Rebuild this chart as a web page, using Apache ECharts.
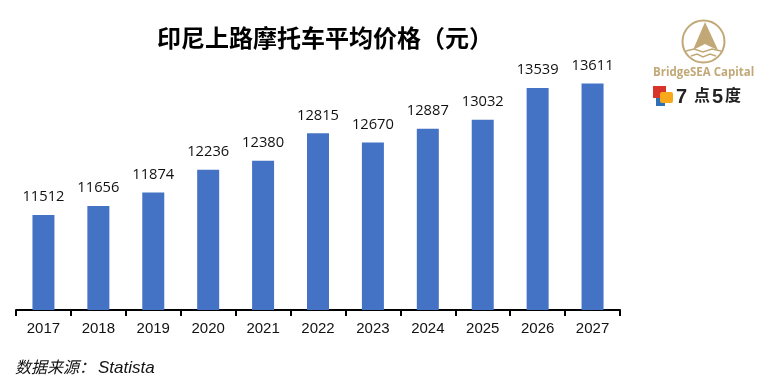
<!DOCTYPE html>
<html>
<head>
<meta charset="utf-8">
<style>
  html, body { margin: 0; padding: 0; background: #fff; }
  #box { width: 768px; height: 392px; }
</style>
<script src="https://cdn.jsdelivr.net/npm/echarts@6/dist/echarts.min.js"></script>
</head>
<body>
<div id="box"></div>
<script>
var years = ["2017", "2018", "2019", "2020", "2021", "2022", "2023", "2024", "2025", "2026", "2027"];
var prices = [11512, 11656, 11874, 12236, 12380, 12815, 12670, 12887, 13032, 13539, 13611];

var cjk = '"Noto Sans CJK SC", sans-serif';
var gold = "#c2a877";

var chart = echarts.init(document.getElementById("box"));
var option = {
  animation: false,
  backgroundColor: "#fff",
  title: {
    text: "印尼上路摩托车平均价格（元）",
    left: 152,
    top: 21,
    textStyle: { fontFamily: cjk, fontSize: 24, fontWeight: "bold", color: "#000" }
  },
  grid: { left: 16, right: 148, top: 59, bottom: 82 },
  xAxis: {
    type: "category",
    data: years,
    axisLine: { lineStyle: { color: "#000", width: 2 } },
    axisTick: { show: true, length: 6, lineStyle: { color: "#000", width: 2 } },
    axisLabel: { fontFamily: "Liberation Sans", fontSize: 15, color: "#111", margin: 11 }
  },
  yAxis: { type: "value", min: 10000, max: 14000, show: false },
  series: [
    {
      type: "bar",
      data: prices,
      barWidth: 22,
      itemStyle: { color: "#4472c4" },
      label: {
        show: true,
        position: "top",
        distance: 10.5,
        fontFamily: "Open Sans",
        fontSize: 14.7,
        color: "#111"
      }
    }
  ],
  graphic: [
    // 来源
    { type: "text", left: 15, top: 359, style: { text: "数据来源：", font: "italic 16px " + cjk, fill: "#111" } },
    { type: "text", left: 98, top: 360, style: { text: "Statista", font: "italic 17px 'Liberation Sans'", fill: "#111" } },
    // BridgeSEA logo
    { type: "circle", shape: { cx: 703.5, cy: 41.5, r: 21 }, style: { fill: "none", stroke: gold, lineWidth: 2 } },
    { type: "polygon", shape: { points: [[705, 22], [693, 50], [699, 47], [705, 44], [711, 47], [718, 50]] }, style: { fill: gold } },
    { type: "polyline", shape: { points: [[686, 51], [694, 49], [703, 52], [712, 49], [721, 51]] }, style: { fill: "none", stroke: gold, lineWidth: 1.5 } },
    { type: "polyline", shape: { points: [[691, 56], [697, 54], [703, 57], [710, 54], [716, 56]] }, style: { fill: "none", stroke: gold, lineWidth: 1.5 } },
    { type: "text", left: 653, top: 67, style: { text: "BridgeSEA Capital", font: "bold 11.5px 'Open Sans'", fill: gold } },
    // 7点5度 logo
    { type: "rect", shape: { x: 653, y: 86, width: 13, height: 12 }, style: { fill: "#d9342b" } },
    { type: "rect", shape: { x: 656, y: 98, width: 9, height: 8 }, style: { fill: "#2f6fb5" } },
    { type: "rect", shape: { x: 660, y: 92, width: 13, height: 11, r: 2 }, style: { fill: "#f7a81b" } },
    { type: "text", left: 676, top: 87, style: { text: "7", font: "bold 20px 'Liberation Sans'", fill: "#222" } },
    { type: "text", left: 694, top: 87, style: { text: "点", font: "bold 16px " + cjk, fill: "#222" } },
    { type: "text", left: 712, top: 87, style: { text: "5", font: "bold 20px 'Liberation Sans'", fill: "#222" } },
    { type: "text", left: 725, top: 87, style: { text: "度", font: "bold 16px " + cjk, fill: "#222" } }
  ]
};
chart.setOption(option);
</script>
</body>
</html>
